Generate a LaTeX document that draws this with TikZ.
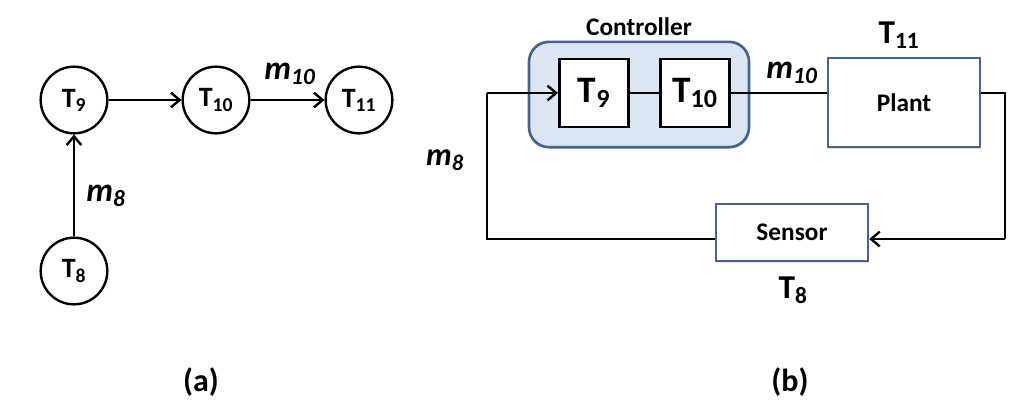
\documentclass[tikz,border=0pt]{standalone}
\usepackage{fontspec}
\setmainfont{Carlito}
\usepackage{tikz}
\usetikzlibrary{arrows.meta}
\usetikzlibrary{shadows}

\definecolor{ctrlfill}{RGB}{220,230,242}
\definecolor{boxline}{RGB}{72,98,136}

\tikzset{
  state/.style={circle, draw, line width=1.8pt, minimum size=50pt, inner sep=0pt,
                font=\bfseries\fontsize{21}{21}\selectfont},
  block/.style={draw, fill=white, line width=2pt, minimum width=52pt, minimum height=51pt, inner sep=0pt,
                font=\bfseries\fontsize{28}{28}\selectfont},
  unit/.style={draw=boxline, line width=1.8pt, fill=white, minimum width=114pt, inner sep=0pt,
                font=\bfseries\fontsize{19}{19}\selectfont,
                drop shadow={opacity=0.25, shadow xshift=1pt, shadow yshift=-1pt}},
  wire/.style={line width=2pt},
  flow/.style={line width=2pt, -{Straight Barb[length=6.5pt, width=11pt, line width=1.8pt]}},
  lbl/.style={font=\bfseries\fontsize{24}{24}\selectfont},
  msg/.style={font=\bfseries\itshape\fontsize{25}{25}\selectfont}
}

\begin{document}
\begin{tikzpicture}[x=0.75pt, y=-0.75pt]
  \useasboundingbox (0,0) rectangle (1031,411);

  % (a) task graph
  \node[state] (a9) at (74,100) {T\textsubscript{9}};
  \node[state] (a10) at (216,100) {T\textsubscript{10}};
  \node[state] (a11) at (359,100) {T\textsubscript{11}};
  \node[state] (a8) at (74,271) {T\textsubscript{8}};

  \draw[flow] (a9) -- (a10);
  \draw[flow] (a10) -- (a11);
  \draw[flow] (a8) -- (a9);

  \node[msg] (am10) at (290,74) {m\textsubscript{10}};
  \node[msg] (am8) at (106,196) {m\textsubscript{8}};

  \node[lbl] (capa) at (201,382) {(a)};

  % (b) control loop
  \node[draw=boxline, fill=ctrlfill, line width=2pt, rounded corners=15pt,
        minimum width=165pt, minimum height=79pt,
        drop shadow={opacity=0.25, shadow xshift=1pt, shadow yshift=-1pt}]
        (ctrl) at (639,94.5) {};
  \node[font=\bfseries\fontsize{19}{19}\selectfont, above=0pt] (ctrllbl) at (ctrl.north) {Controller};

  \node[block] (b9) at (594,93) {T\textsubscript{9}};
  \node[block] (b10) at (695,93) {T\textsubscript{10}};

  \node[unit, minimum height=67pt] (plant) at (904,102.5) {Plant};
  \node[unit, minimum height=43pt] (sensor) at (792,232.5) {Sensor};

  \node[font=\bfseries\fontsize{25}{25}\selectfont] (t11) at (899,35) {T\textsubscript{11}};
  \node[font=\bfseries\fontsize{25}{25}\selectfont] (t8) at (793,290) {T\textsubscript{8}};

  \coordinate (outp) at (1005,93);
  \coordinate (fbr) at (1005,239);
  \coordinate (fbl) at (487,239);
  \coordinate (inp) at (487,93);

  % Draw the wires
  \draw[wire] (b9) -- (b10);
  \draw[wire] (b10.east) -- (b10.east -| plant.west);
  \draw[wire] (plant.east |- outp) -- (outp) -- (fbr);
  \draw[flow] (fbr) -- (fbr -| sensor.east);
  \draw[wire] (sensor.west |- fbl) -- (fbl) -- (inp);
  \draw[flow] (inp) -- (b9.west);

  \node[msg] (bm10) at (792,73) {m\textsubscript{10}};
  \node[msg, font=\bfseries\itshape\fontsize{24}{24}\selectfont] (bm8) at (445,160) {m\textsubscript{8}};

  \node[lbl] (capb) at (790,382) {(b)};
\end{tikzpicture}
\end{document}
